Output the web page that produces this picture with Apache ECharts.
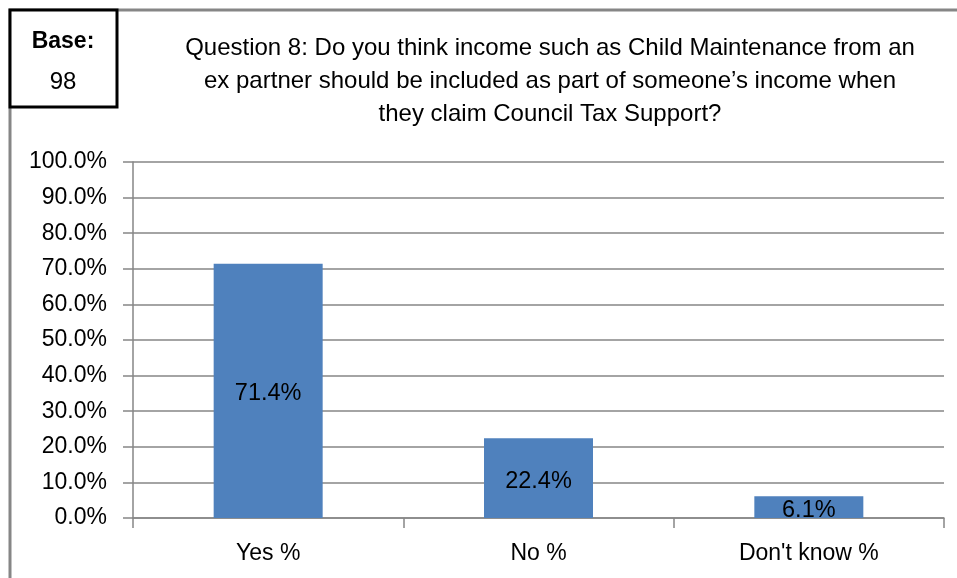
<!DOCTYPE html>
<html>
<head>
<meta charset="utf-8">
<script src="https://cdn.jsdelivr.net/npm/echarts@6/dist/echarts.min.js"></script>
<style>
  html, body { margin: 0; padding: 0; background: #ffffff; }
  #chart { width: 957px; height: 578px; }
</style>
</head>
<body>
<div id="chart"></div>
<script>
// Survey responses, Question 8
const categories = ['Yes %', 'No %', "Don't know %"];
const values = [71.4, 22.4, 6.1];
const baseCount = 98;
const titleLines = [
  'Question 8: Do you think income such as Child Maintenance from an',
  'ex partner should be included as part of someone\u2019s income when',
  'they claim Council Tax Support?'
];

const FONT = '"Liberation Sans", Arial, sans-serif';
const GRAY = '#868686';

const chart = echarts.init(document.getElementById('chart'), null, { renderer: 'canvas' });

chart.setOption({
  backgroundColor: '#ffffff',
  animation: false,
  title: {
    text: titleLines.join('\n'),
    left: 550,
    top: 32,
    padding: 0,
    textAlign: 'center',
    textStyle: {
      fontFamily: FONT,
      fontSize: 24,
      fontWeight: 'normal',
      color: '#000000',
      lineHeight: 32.8
    }
  },
  grid: { left: 133, right: 13, top: 162, bottom: 60, containLabel: false },
  xAxis: {
    type: 'category',
    data: categories,
    axisLine: { lineStyle: { color: GRAY, width: 1.5 } },
    axisTick: { show: true, length: 10, alignWithLabel: false, lineStyle: { color: GRAY, width: 1.5 } },
    axisLabel: { fontFamily: FONT, fontSize: 23, color: '#000000', margin: 24 }
  },
  yAxis: {
    type: 'value',
    min: 0,
    max: 100,
    interval: 10,
    axisLine: { show: true, lineStyle: { color: GRAY, width: 1.5 } },
    axisTick: { show: true, length: 10, lineStyle: { color: GRAY, width: 1.5 } },
    splitLine: { show: true, lineStyle: { color: GRAY, width: 1.5 } },
    axisLabel: {
      fontFamily: FONT,
      fontSize: 23,
      color: '#000000',
      margin: 26,
      formatter: v => v.toFixed(1) + '%'
    }
  },
  series: [{
    type: 'bar',
    data: values,
    barWidth: 109,
    itemStyle: { color: '#4F81BD' },
    label: {
      show: true,
      position: 'inside',
      offset: [0, 3],
      fontFamily: FONT,
      fontSize: 23.5,
      color: '#000000',
      formatter: p => p.value.toFixed(1) + '%'
    }
  }],
  graphic: [
    {
      type: 'rect',
      shape: { x: 10, y: 10, width: 960, height: 600 },
      style: { fill: 'none', stroke: GRAY, lineWidth: 3 },
      z: 0
    },
    {
      type: 'rect',
      shape: { x: 10, y: 10, width: 107, height: 97 },
      style: { fill: '#ffffff', stroke: '#000000', lineWidth: 3 },
      z: 10
    },
    {
      type: 'text',
      x: 63, y: 42,
      style: {
        text: 'Base:', fontFamily: FONT, fontSize: 23, fontWeight: 'bold',
        fill: '#000000', textAlign: 'center', textVerticalAlign: 'middle'
      },
      z: 11
    },
    {
      type: 'text',
      x: 63, y: 82,
      style: {
        text: String(baseCount), fontFamily: FONT, fontSize: 24,
        fill: '#000000', textAlign: 'center', textVerticalAlign: 'middle'
      },
      z: 11
    }
  ]
});
</script>
</body>
</html>
